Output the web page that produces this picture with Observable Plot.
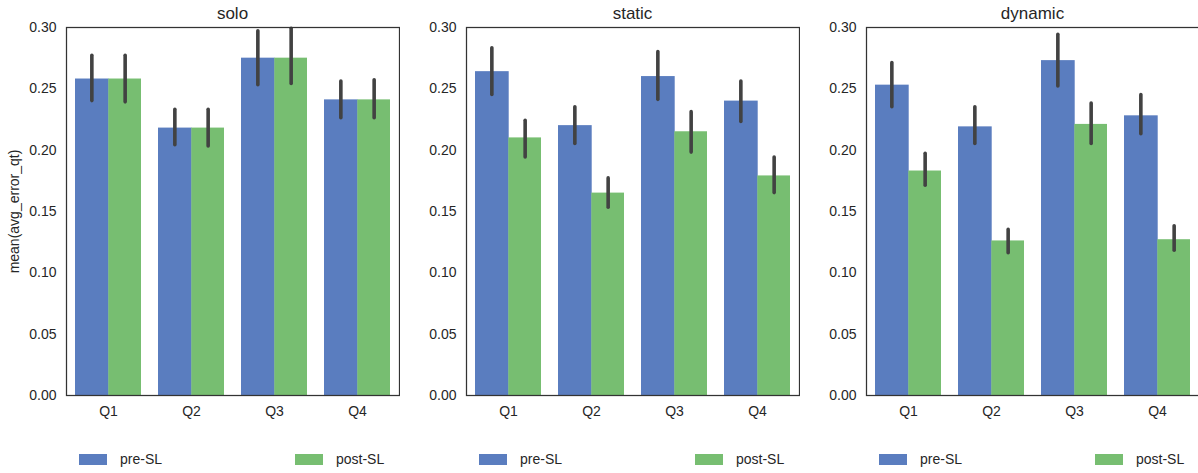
<!DOCTYPE html>
<html>
<head>
<meta charset="utf-8">
<script src="https://cdn.jsdelivr.net/npm/d3@7"></script>
<script src="https://cdn.jsdelivr.net/npm/@observablehq/plot@0.6"></script>
<style>
  html, body { margin: 0; padding: 0; background: #fff; overflow: hidden; }
  body { width: 1198px; height: 473px; position: relative; font-family: "Liberation Sans", Arial, sans-serif; color: #262626; }
  .panel { position: absolute; top: 0; }
  .title { position: absolute; top: 4px; font-size: 17px; text-align: center; }
  .legend { position: absolute; top: 451px; font-size: 14px; height: 16px; }
  .sw { position: absolute; top: 3px; width: 28px; height: 11px; }
  .lt { position: absolute; top: 0px; line-height: 16px; white-space: nowrap; }
</style>
</head>
<body>
<div id="root"></div>
<script>
// ---- data ----
const quarters = ["Q1", "Q2", "Q3", "Q4"];
const phases = ["pre-SL", "post-SL"];
const panelNames = ["solo", "static", "dynamic"];
const yTicks = [0, 0.05, 0.10, 0.15, 0.20, 0.25, 0.30];

// means per quarter
const soloPre   = [0.258, 0.218, 0.275, 0.241];
const soloPost  = [0.258, 0.218, 0.275, 0.241];
const staticPre  = [0.264, 0.220, 0.260, 0.240];
const staticPost = [0.210, 0.165, 0.215, 0.179];
const dynamicPre  = [0.253, 0.219, 0.273, 0.228];
const dynamicPost = [0.183, 0.126, 0.221, 0.127];

// confidence intervals (low, high)
const soloPreLo   = [0.240, 0.204, 0.253, 0.226];
const soloPreHi   = [0.277, 0.233, 0.297, 0.256];
const soloPostLo  = [0.239, 0.203, 0.254, 0.226];
const soloPostHi  = [0.277, 0.233, 0.299, 0.257];
const staticPreLo  = [0.245, 0.205, 0.241, 0.223];
const staticPreHi  = [0.283, 0.235, 0.280, 0.256];
const staticPostLo = [0.194, 0.153, 0.198, 0.165];
const staticPostHi = [0.224, 0.177, 0.231, 0.194];
const dynamicPreLo  = [0.235, 0.205, 0.252, 0.213];
const dynamicPreHi  = [0.271, 0.235, 0.294, 0.245];
const dynamicPostLo = [0.171, 0.116, 0.205, 0.118];
const dynamicPostHi = [0.197, 0.135, 0.238, 0.138];

const colors = ["#5a7dbf", "#77be71"];

const series = [
  {pre: soloPre, post: soloPost, preLo: soloPreLo, preHi: soloPreHi, postLo: soloPostLo, postHi: soloPostHi},
  {pre: staticPre, post: staticPost, preLo: staticPreLo, preHi: staticPreHi, postLo: staticPostLo, postHi: staticPostHi},
  {pre: dynamicPre, post: dynamicPost, preLo: dynamicPreLo, preHi: dynamicPreHi, postLo: dynamicPostLo, postHi: dynamicPostHi}
];

// ---- layout ----
const panelLeft = [0, 400, 800];
const W = 400, H = 430, mL = 66, mR = 1, mT = 27, mB = 35;
const plotW = W - mL - mR;
const bandW = plotW / 4 * 0.8; // seaborn width 0.8
const half = bandW / 2;

const root = document.getElementById("root");

series.forEach((s, i) => {
  const rows = [];
  quarters.forEach((q, j) => {
    rows.push({q, phase: "pre-SL", v: s.pre[j], lo: s.preLo[j], hi: s.preHi[j]});
    rows.push({q, phase: "post-SL", v: s.post[j], lo: s.postLo[j], hi: s.postHi[j]});
  });
  const pre = rows.filter(d => d.phase === "pre-SL");
  const post = rows.filter(d => d.phase === "post-SL");

  const chart = Plot.plot({
    width: W, height: H,
    marginLeft: mL, marginRight: mR, marginTop: mT, marginBottom: mB,
    style: {fontSize: "14px", fontFamily: "Liberation Sans, Arial, sans-serif", color: "#262626", background: "transparent"},
    x: {domain: quarters, paddingInner: 0.2, paddingOuter: 0.1, label: null, tickSize: 0, tickPadding: 11},
    y: {domain: [0, 0.30], ticks: yTicks, tickFormat: d3.format(".2f"), tickSize: 0, tickPadding: 10,
        label: i === 0 ? "mean(avg_error_qt)" : null, labelAnchor: "center", labelOffset: 57, labelArrow: false},
    marks: [
      Plot.barY(pre, {x: "q", y: "v", fill: colors[0], insetRight: half - 1}),
      Plot.barY(post, {x: "q", y: "v", fill: colors[1], insetLeft: half}),
      Plot.ruleX(pre, {x: "q", y1: "lo", y2: "hi", dx: -half / 2, stroke: "#424242", strokeWidth: 3.6, strokeLinecap: "round"}),
      Plot.ruleX(post, {x: "q", y1: "lo", y2: "hi", dx: half / 2, stroke: "#424242", strokeWidth: 3.6, strokeLinecap: "round"}),
      Plot.frame({stroke: "#333", strokeWidth: 1.25})
    ]
  });

  const panel = document.createElement("div");
  panel.className = "panel";
  panel.style.left = panelLeft[i] + "px";
  panel.style.width = W + "px";
  panel.appendChild(chart);
  root.appendChild(panel);

  const title = document.createElement("div");
  title.className = "title";
  title.style.left = (panelLeft[i] + mL) + "px";
  title.style.width = plotW + "px";
  title.textContent = panelNames[i];
  root.appendChild(title);

  const legend = document.createElement("div");
  legend.className = "legend";
  legend.style.left = (panelLeft[i] + mL + 13) + "px";
  root.appendChild(legend);
  phases.forEach((p, k) => {
    const sw = document.createElement("div");
    sw.className = "sw";
    sw.style.left = (k * 216) + "px";
    sw.style.background = colors[k];
    legend.appendChild(sw);
    const t = document.createElement("div");
    t.className = "lt";
    t.style.left = (k * 216 + 41) + "px";
    t.textContent = p;
    legend.appendChild(t);
  });
});
</script>
</body>
</html>
